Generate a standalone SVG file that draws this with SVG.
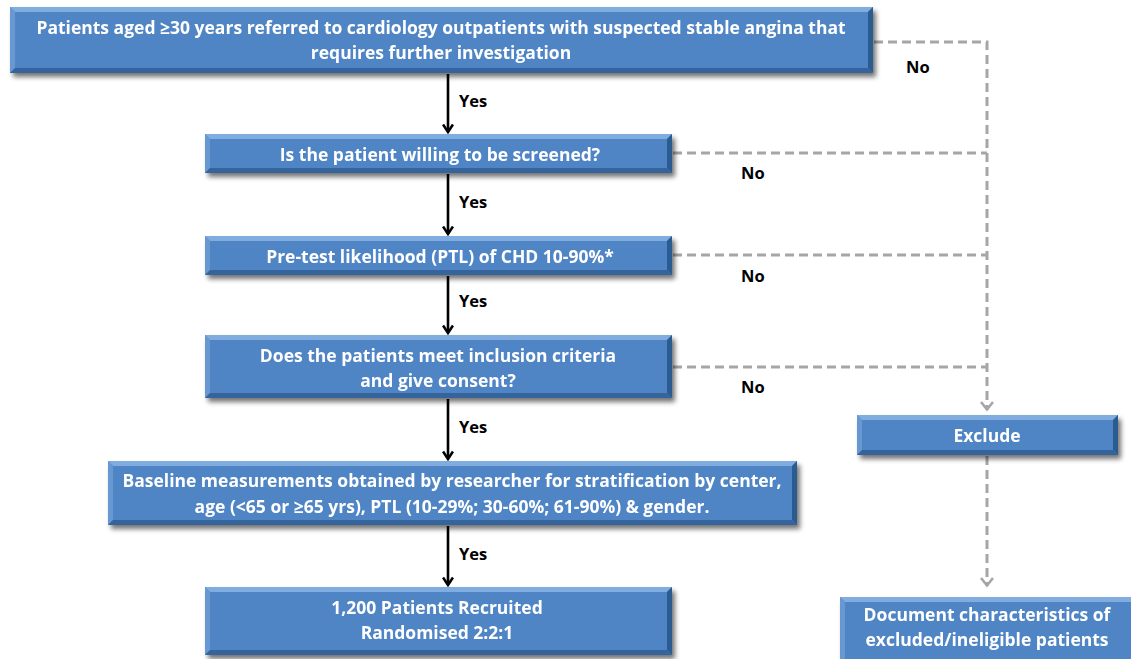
<svg xmlns="http://www.w3.org/2000/svg" width="1131" height="659" viewBox="0 0 1131 659">
<defs>
<filter id="sh" x="-5%" y="-20%" width="115%" height="150%">
<feGaussianBlur in="SourceAlpha" stdDeviation="2.5"/>
<feOffset dx="3" dy="4" result="o"/>
<feComponentTransfer><feFuncA type="linear" slope="0.55"/></feComponentTransfer>
<feMerge><feMergeNode/><feMergeNode in="SourceGraphic"/></feMerge>
</filter>
<marker id="ab" viewBox="0 0 12 12" refX="10.5" refY="6" markerWidth="12" markerHeight="12" markerUnits="userSpaceOnUse" orient="auto">
<path d="M3,1 L10.5,6 L3,11" fill="none" stroke="#000" stroke-width="2.6"/>
</marker>
<marker id="ag" viewBox="0 0 12 14" refX="10" refY="7" markerWidth="12" markerHeight="14" markerUnits="userSpaceOnUse" orient="auto">
<path d="M2,1 L9.5,7 L2,13" fill="none" stroke="#a6a6a6" stroke-width="2.6"/>
</marker>
</defs>
<style>
.face{fill:#4f85c5}
.bt{fill:#80ace0}
.bl{fill:#6898d2}
.br{fill:#2c5b92}
.bb{fill:#34649c}
.t{font-family:"Open Sans","Liberation Sans",sans-serif;font-weight:bold;font-size:17.5px;fill:#fff;text-anchor:middle}
.lab{font-family:"Open Sans","Liberation Sans",sans-serif;font-weight:bold;font-size:16.5px;fill:#000}
.solid{stroke:#000;stroke-width:2.6;fill:none;marker-end:url(#ab)}
.dash{stroke:#a6a6a6;stroke-width:3;fill:none;stroke-dasharray:9 5}
</style>
<rect width="1131" height="659" fill="#fff"/>

<g id="connectors">
<line class="solid" x1="448" y1="74" x2="448" y2="132"/>
<line class="solid" x1="448" y1="174" x2="448" y2="234"/>
<line class="solid" x1="448" y1="276" x2="448" y2="333"/>
<line class="solid" x1="448" y1="399" x2="448" y2="459"/>
<line class="solid" x1="448" y1="526" x2="448" y2="585"/>
<path class="dash" d="M874,42 H987 V410" marker-end="url(#ag)"/>
<path class="dash" d="M673,153 H987"/>
<path class="dash" d="M673,255 H987"/>
<path class="dash" d="M673,367 H987"/>
<path class="dash" d="M987,456 V586" marker-end="url(#ag)"/>
<text class="lab" x="459" y="107">Yes</text>
<text class="lab" x="459" y="208">Yes</text>
<text class="lab" x="459" y="307">Yes</text>
<text class="lab" x="459" y="433">Yes</text>
<text class="lab" x="459" y="560">Yes</text>
<text class="lab" x="906" y="73">No</text>
<text class="lab" x="741" y="179">No</text>
<text class="lab" x="741" y="282">No</text>
<text class="lab" x="741" y="393">No</text>
</g>

<g id="n1" filter="url(#sh)">
<rect class="face" x="10" y="7" width="863" height="66"/>
<polygon class="bt" points="10,7 873,7 868,12 15,12"/>
<polygon class="bl" points="10,7 15,12 15,68 10,73"/>
<polygon class="br" points="873,7 873,73 868,68 868,12"/>
<polygon class="bb" points="10,73 873,73 868,68 15,68"/>
<text class="t" x="441" y="34">Patients aged ≥30 years referred  to cardiology outpatients with suspected stable angina that</text>
<text class="t" x="441" y="59">requires further investigation</text>
</g>

<g id="n2" filter="url(#sh)">
<rect class="face" x="205" y="134" width="467" height="39"/>
<polygon class="bt" points="205,134 672,134 667,139 210,139"/>
<polygon class="bl" points="205,134 210,139 210,168 205,173"/>
<polygon class="br" points="672,134 672,173 667,168 667,139"/>
<polygon class="bb" points="205,173 672,173 667,168 210,168"/>
<text class="t" x="440" y="161">Is the patient willing to be screened?</text>
</g>

<g id="n3" filter="url(#sh)">
<rect class="face" x="205" y="236" width="467" height="39"/>
<polygon class="bt" points="205,236 672,236 667,241 210,241"/>
<polygon class="bl" points="205,236 210,241 210,270 205,275"/>
<polygon class="br" points="672,236 672,275 667,270 667,241"/>
<polygon class="bb" points="205,275 672,275 667,270 210,270"/>
<text class="t" x="440" y="263">Pre-test likelihood (PTL) of CHD 10-90%*</text>
</g>

<g id="n4" filter="url(#sh)">
<rect class="face" x="205" y="335" width="467" height="63"/>
<polygon class="bt" points="205,335 672,335 667,340 210,340"/>
<polygon class="bl" points="205,335 210,340 210,393 205,398"/>
<polygon class="br" points="672,335 672,398 667,393 667,340"/>
<polygon class="bb" points="205,398 672,398 667,393 210,393"/>
<text class="t" x="438" y="362">Does the patients meet inclusion criteria</text>
<text class="t" x="438" y="387">and give consent?</text>
</g>

<g id="n5" filter="url(#sh)">
<rect class="face" x="108" y="461" width="689" height="64"/>
<polygon class="bt" points="108,461 797,461 792,466 113,466"/>
<polygon class="bl" points="108,461 113,466 113,520 108,525"/>
<polygon class="br" points="797,461 797,525 792,520 792,466"/>
<polygon class="bb" points="108,525 797,525 792,520 113,520"/>
<text class="t" x="452" y="487">Baseline measurements obtained by researcher for stratification by center,</text>
<text class="t" x="452" y="513">age (&lt;65 or ≥65 yrs), PTL (10-29%; 30-60%; 61-90%) &amp; gender.</text>
</g>

<g id="n6" filter="url(#sh)">
<rect class="face" x="205" y="587" width="467" height="68"/>
<polygon class="bt" points="205,587 672,587 667,592 210,592"/>
<polygon class="bl" points="205,587 210,592 210,650 205,655"/>
<polygon class="br" points="672,587 672,655 667,650 667,592"/>
<polygon class="bb" points="205,655 672,655 667,650 210,650"/>
<text class="t" x="437" y="614">1,200 Patients Recruited</text>
<text class="t" x="437" y="639">Randomised 2:2:1</text>
</g>

<g id="exclude" filter="url(#sh)">
<rect class="face" x="857" y="415" width="261" height="40"/>
<polygon class="bt" points="857,415 1118,415 1113,420 862,420"/>
<polygon class="bl" points="857,415 862,420 862,450 857,455"/>
<polygon class="br" points="1118,415 1118,455 1113,450 1113,420"/>
<polygon class="bb" points="857,455 1118,455 1113,450 862,450"/>
<text class="t" x="987" y="442">Exclude</text>
</g>

<g id="document" filter="url(#sh)">
<rect class="face" x="840" y="597" width="296" height="64"/>
<polygon class="bt" points="840,597 1136,597 1131,602 845,602"/>
<polygon class="bl" points="840,597 845,602 845,661 840,661"/>
<text class="t" x="987" y="621">Document characteristics of</text>
<text class="t" x="987" y="646">excluded/ineligible patients</text>
</g>
</svg>
